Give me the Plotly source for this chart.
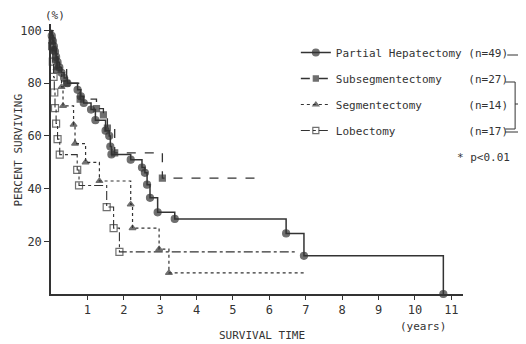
import plotly.graph_objects as go

# ---- data ----
partial_x = [0, 0.02, 0.05, 0.08, 0.11, 0.14, 0.18, 0.23, 0.29, 0.36, 0.45, 0.73, 0.82, 0.9, 1.1, 1.22,
             1.5, 1.6, 1.63, 1.66, 2.19, 2.5, 2.58, 2.64, 2.72, 2.93, 3.4, 6.46, 6.95, 10.78]
partial_y = [100, 98, 96, 94, 92, 90, 88, 86, 84, 82, 80, 77.5, 75, 72.5, 70, 66,
             62, 60, 56, 53, 51, 48, 46, 41.5, 36.5, 31, 28.5, 23, 14.5, 0]

subseg_x = [0, 0.03, 0.07, 0.12, 0.18, 0.43, 0.8, 1.25, 1.44, 1.55, 1.75, 3.06, 5.76]
subseg_y = [100, 96.3, 92.6, 88.9, 85.2, 80, 74, 70.4, 68, 63, 53.6, 44, 44]

seg_x = [0, 0.06, 0.15, 0.29, 0.33, 0.62, 0.66, 0.95, 1.33, 2.19, 2.24, 2.97, 3.24, 6.95]
seg_y = [100, 92.9, 85.7, 78.6, 71.4, 64.3, 57.1, 50, 42.9, 34, 25, 17, 8, 8]

lob_x = [0, 0.03, 0.05, 0.07, 0.09, 0.11, 0.14, 0.18, 0.24, 0.72, 0.77, 1.53, 1.72, 1.88, 6.73]
lob_y = [100, 94.1, 88.2, 82.4, 76.5, 70.6, 64.7, 58.8, 52.9, 47.1, 41.2, 33, 25, 16, 16]

x_ticks = [1, 2, 3, 4, 5, 6, 7, 8, 9, 10, 11]
y_ticks = [20, 40, 60, 80, 100]

names = ["Partial Hepatectomy (n=49)",
         "Subsegmentectomy\u00a0\u00a0\u00a0\u00a0(n=27)",
         "Segmentectomy\u00a0\u00a0\u00a0\u00a0\u00a0\u00a0\u00a0(n=14)",
         "Lobectomy\u00a0\u00a0\u00a0\u00a0\u00a0\u00a0\u00a0\u00a0\u00a0\u00a0\u00a0(n=17)"]
last_is_event = [True, False, False, False]

INK = "#333333"
MONO = "DejaVu Sans Mono"

styles = [
    dict(dash="solid", width=1.5, symbol="circle", size=7),
    dict(dash="dash", width=1.3, symbol="square", size=6),
    dict(dash="dot", width=1.2, symbol="triangle-up", size=6),
    dict(dash="dashdot", width=1.1, symbol="square-open", size=7),
]

fig = go.Figure()
series = [(partial_x, partial_y), (subseg_x, subseg_y), (seg_x, seg_y), (lob_x, lob_y)]
for i, ((xs, ys), st) in enumerate(zip(series, styles)):
    sizes = [0] + [st["size"]] * (len(xs) - 2) + [st["size"] if last_is_event[i] else 0]
    fig.add_trace(go.Scatter(
        x=xs, y=ys, mode="lines+markers", name=names[i],
        line=dict(shape="hv", color=INK, width=st["width"], dash=st["dash"]),
        marker=dict(symbol=st["symbol"], size=sizes, color=INK,
                    line=dict(color=INK, width=1.2)),
        legendgroup=f"g{i}", cliponaxis=False,
    ))

# page body has an 8px default margin: build the figure 8px smaller
OFF = 8
W, H = 526 - OFF, 344 - OFF
L, R, T, B = 46 - OFF, 61, 24 - OFF, 50
pw, ph = W - L - R, H - T - B


def px(xr):  # reference-window pixel -> paper fraction
    return (xr - OFF - L) / pw


def py(yr):
    return (H - B - (yr - OFF)) / ph


fig.update_layout(
    width=W, height=H,
    margin=dict(l=L, r=R, t=T, b=B),
    paper_bgcolor="white", plot_bgcolor="white",
    font=dict(family=MONO, color=INK, size=11),
    showlegend=True,
    legend=dict(x=px(295), y=py(38), xanchor="left", yanchor="top",
                bgcolor="rgba(0,0,0,0)", font=dict(family=MONO, size=11, color=INK),
                tracegroupgap=7, itemwidth=30, traceorder="grouped"),
    xaxis=dict(range=[0, 11.32], showgrid=False, zeroline=False, showline=True,
               linecolor=INK, linewidth=1.5, ticks="outside", ticklen=4,
               tickcolor=INK, tickvals=x_ticks, ticktext=[str(v) for v in x_ticks],
               tickfont=dict(family=MONO, size=12, color=INK)),
    yaxis=dict(range=[0, 102.5], showgrid=False, zeroline=False, showline=True,
               linecolor=INK, linewidth=1.5, ticks="outside", ticklen=5,
               tickcolor=INK, tickvals=y_ticks, ticktext=[str(v) for v in y_ticks],
               tickfont=dict(family=MONO, size=12, color=INK)),
)

ann = dict(xref="paper", yref="paper", showarrow=False, xanchor="center", yanchor="middle",
           font=dict(family=MONO, size=11, color=INK))
fig.add_annotation(text="PERCENT SURVIVING", x=px(12), y=py(150), textangle=-90, **ann)
fig.add_annotation(text="SURVIVAL TIME", x=px(261), y=py(335), **ann)
fig.add_annotation(text="(years)", x=px(424), y=py(326), **ann)
fig.add_annotation(text="(%)", x=px(50), y=py(16), **ann)
fig.add_annotation(text="* p<0.01", x=px(486), y=py(157), **ann)

# bracket marks for significance
line = dict(color=INK, width=1)
for (x0, y0, x1, y1) in [
    (510, 55, 526, 55),
    (508, 82, 518, 82), (518, 82, 518, 129), (508, 129, 518, 129),
    (508, 132, 523, 132), (523, 104, 523, 132), (518, 104, 526, 104),
]:
    fig.add_shape(type="line", xref="paper", yref="paper",
                  x0=px(x0), y0=py(y0), x1=px(x1), y1=py(y1), line=line)

fig.write_html("out.html")
